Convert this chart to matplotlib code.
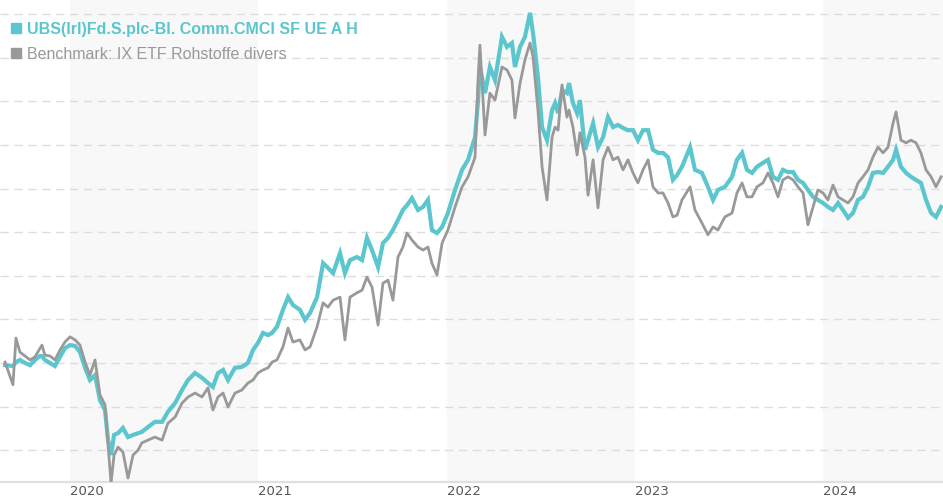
import matplotlib
matplotlib.use("Agg")
import matplotlib.pyplot as plt
from matplotlib.lines import Line2D

# time in decimal years
t = [2019.655, 2019.697, 2019.713, 2019.734, 2019.761, 2019.788, 2019.814, 2019.841, 2019.851, 2019.867,
     2019.894, 2019.920, 2019.947, 2019.973, 2020.000, 2020.027, 2020.053, 2020.080, 2020.106, 2020.133,
     2020.159, 2020.186, 2020.202, 2020.218, 2020.234, 2020.255, 2020.281, 2020.308, 2020.335, 2020.361,
     2020.382, 2020.414, 2020.451, 2020.489, 2020.520, 2020.558, 2020.595, 2020.627, 2020.664, 2020.701,
     2020.733, 2020.759, 2020.786, 2020.813, 2020.839, 2020.876, 2020.913, 2020.945, 2020.972, 2020.998,
     2021.025, 2021.052, 2021.073, 2021.099, 2021.131, 2021.158, 2021.184, 2021.221, 2021.248, 2021.275,
     2021.312, 2021.344, 2021.370, 2021.397, 2021.434, 2021.460, 2021.487, 2021.524, 2021.551, 2021.577,
     2021.604, 2021.636, 2021.662, 2021.689, 2021.715, 2021.742, 2021.768, 2021.790, 2021.816, 2021.848,
     2021.875, 2021.901, 2021.922, 2021.949, 2021.976, 2022.007, 2022.045, 2022.082, 2022.114, 2022.151,
     2022.167, 2022.177, 2022.204, 2022.230, 2022.257, 2022.294, 2022.321, 2022.347, 2022.363, 2022.390,
     2022.416, 2022.443, 2022.459, 2022.485, 2022.507, 2022.533, 2022.560, 2022.576, 2022.592, 2022.613,
     2022.639, 2022.650, 2022.671, 2022.693, 2022.708, 2022.735, 2022.751, 2022.778, 2022.804, 2022.831,
     2022.857, 2022.884, 2022.910, 2022.937, 2022.963, 2022.990, 2023.016, 2023.043, 2023.070, 2023.096,
     2023.123, 2023.149, 2023.176, 2023.202, 2023.224, 2023.250, 2023.293, 2023.319, 2023.356, 2023.388,
     2023.415, 2023.441, 2023.478, 2023.516, 2023.542, 2023.569, 2023.595, 2023.622, 2023.648, 2023.680,
     2023.707, 2023.733, 2023.760, 2023.786, 2023.813, 2023.840, 2023.866, 2023.893, 2023.919, 2023.946,
     2023.972, 2023.999, 2024.025, 2024.052, 2024.079, 2024.105, 2024.132, 2024.158, 2024.185, 2024.211,
     2024.238, 2024.264, 2024.291, 2024.318, 2024.344, 2024.371, 2024.387, 2024.413, 2024.440, 2024.466,
     2024.493, 2024.519, 2024.546, 2024.573, 2024.599, 2024.626]

fund = [99.5, 99.3, 100.2, 100.7, 100.0, 99.5, 100.7, 101.6, 101.6, 100.7,
        100.0, 99.3, 101.4, 103.4, 104.1, 103.9, 102.5, 98.9, 96.1, 97.2,
        91.5, 89.2, 82.3, 78.9, 83.5, 83.9, 85.1, 83.0, 83.5, 83.9,
        84.2, 85.3, 86.5, 86.5, 88.8, 90.8, 93.8, 96.1, 97.7, 96.6,
        95.4, 94.5, 97.7, 98.4, 96.1, 98.9, 99.1, 100.0, 103.0, 104.6,
        106.9, 106.4, 106.9, 108.3, 112.2, 115.1, 113.3, 112.2, 109.9, 111.5,
        115.1, 122.9, 121.8, 120.6, 125.2, 120.6, 123.6, 124.3, 123.6, 128.7,
        125.9, 122.0, 127.5, 128.7, 130.5, 132.8, 135.1, 136.2, 137.8, 135.1,
        135.8, 137.4, 130.5, 129.8, 131.2, 134.4, 139.7, 144.3, 146.6, 151.8,
        160.3, 167.9, 161.9, 167.9, 164.9, 174.8, 172.5, 173.4, 167.9, 172.5,
        174.8, 180.3, 175.7, 165.6, 154.1, 151.1, 158.0, 159.6, 157.3, 162.6,
        161.9, 164.2, 159.6, 157.3, 160.3, 148.9, 151.1, 155.0, 149.5, 151.8,
        156.4, 154.1, 154.6, 153.9, 153.4, 153.4, 151.1, 153.4, 153.4, 148.9,
        148.2, 148.2, 147.2, 142.0, 143.1, 145.0, 149.5, 144.3, 143.6, 140.4,
        137.4, 139.7, 140.4, 142.7, 146.6, 148.2, 144.3, 143.6, 145.0, 145.9,
        146.6, 142.7, 142.0, 144.3, 143.8, 143.8, 142.0, 141.3, 139.7, 138.1,
        137.4, 136.7, 135.8, 135.1, 136.7, 135.1, 133.3, 134.4, 137.4, 138.1,
        140.4, 143.6, 143.8, 143.6, 145.0, 146.6, 148.9, 145.0, 143.6, 142.7,
        142.0, 141.3, 137.4, 134.4, 133.5, 135.8]

bench = [100.2, 95.0, 105.7, 102.5, 101.6, 100.7, 101.4, 103.4, 104.1, 101.8,
         101.6, 100.7, 103.0, 104.8, 106.0, 105.3, 104.1, 100.2, 97.2, 100.7,
         92.7, 90.4, 81.2, 72.5, 78.9, 80.7, 79.6, 73.6, 78.9, 80.0,
         81.7, 82.3, 83.0, 82.3, 86.2, 87.6, 90.8, 92.2, 93.1, 92.2,
         94.3, 89.2, 92.2, 93.1, 89.9, 93.1, 93.8, 95.4, 96.1, 97.7,
         98.4, 98.9, 100.2, 100.7, 103.7, 108.0, 104.8, 105.3, 103.0, 103.7,
         108.3, 113.8, 112.8, 114.4, 115.1, 105.3, 115.1, 116.1, 116.7, 119.7,
         117.4, 108.7, 118.3, 119.0, 114.4, 124.3, 126.6, 129.8, 128.2, 126.6,
         125.9, 126.6, 122.9, 120.2, 127.5, 130.5, 135.8, 140.4, 142.7, 147.2,
         164.9, 172.9, 152.3, 161.9, 160.3, 167.9, 167.2, 164.9, 156.2, 164.2,
         169.5, 173.4, 170.2, 158.0, 145.0, 137.4, 151.8, 154.1, 153.4, 163.8,
         156.4, 158.0, 154.1, 147.7, 152.8, 147.2, 138.5, 146.6, 135.6, 146.6,
         149.5, 146.6, 147.2, 144.3, 146.6, 143.6, 141.3, 144.3, 146.6, 140.4,
         139.0, 139.0, 136.7, 133.5, 133.9, 137.4, 140.4, 135.1, 132.1, 129.4,
         131.2, 130.5, 133.5, 134.4, 139.0, 141.3, 138.1, 138.1, 140.4, 141.3,
         143.6, 141.3, 138.1, 142.0, 142.7, 142.0, 140.4, 139.0, 131.7, 135.8,
         139.7, 139.0, 137.4, 140.8, 138.1, 137.4, 136.7, 138.1, 141.3, 142.7,
         144.3, 147.2, 149.5, 148.2, 149.5, 155.0, 157.6, 151.1, 150.5, 151.1,
         150.5, 148.2, 144.3, 142.7, 140.4, 142.7]

fund_name = "UBS(Irl)Fd.S.plc-Bl. Comm.CMCI SF UE A H"
bench_name = "Benchmark: IX ETF Rohstoffe divers"
years = [2020, 2021, 2022, 2023, 2024]
shaded_years = [2020, 2022, 2024]
grid_levels = [80, 90, 100, 110, 120, 130, 140, 150, 160, 170, 180]

TEAL = "#5bc6cd"
GRAY = "#999999"

fig = plt.figure(figsize=(9.43, 5.0), dpi=100)
ax = fig.add_axes([0.0, 18 / 500, 1.0, 482 / 500])

x0 = 2020 - 70 / 188.3
x1 = 2020 + 873 / 188.3
ax.set_xlim(x0, x1)
ax.set_ylim(72.7, 183.26)

for y in shaded_years:
    ax.axvspan(y, y + 1, color="#f8f8f8", zorder=0, lw=0)

ax.set_yticks(grid_levels)
ax.set_yticklabels([])
ax.grid(axis="y", color="#dddddd", lw=1.0, linestyle=(0, (6, 4)), zorder=1)
ax.tick_params(axis="y", length=0)

ax.plot(t, fund, color=TEAL, lw=3.0, zorder=3, solid_joinstyle="miter")
ax.plot(t, bench, color=GRAY, lw=2.0, zorder=4)

for s in ["top", "left", "right"]:
    ax.spines[s].set_visible(False)
ax.spines["bottom"].set_color("#e0e0e0")
ax.spines["bottom"].set_linewidth(1.6)

ax.set_xticks(years)
ax.set_xticklabels([str(y) for y in years], fontsize=9.5, color="#555555",
                   family="DejaVu Sans")
for lbl in ax.get_xticklabels():
    lbl.set_horizontalalignment("left")
ax.tick_params(axis="x", length=0, pad=2)

handles = [Line2D([], [], marker="s", ls="", color=TEAL, markersize=7),
           Line2D([], [], marker="s", ls="", color=GRAY, markersize=7)]
leg = ax.legend(handles, [fund_name, bench_name], loc="upper left",
                bbox_to_anchor=(10 / 943, 1 - 22 / 482), frameon=False,
                prop={"family": "Liberation Sans", "size": 11.5},
                handlelength=0.7, handletextpad=0.35, labelspacing=0.62,
                borderaxespad=0, borderpad=0)
txts = leg.get_texts()
txts[0].set_color(TEAL)
txts[0].set_fontweight("bold")
txts[1].set_color(GRAY)

fig.savefig("out.png", dpi=100)
